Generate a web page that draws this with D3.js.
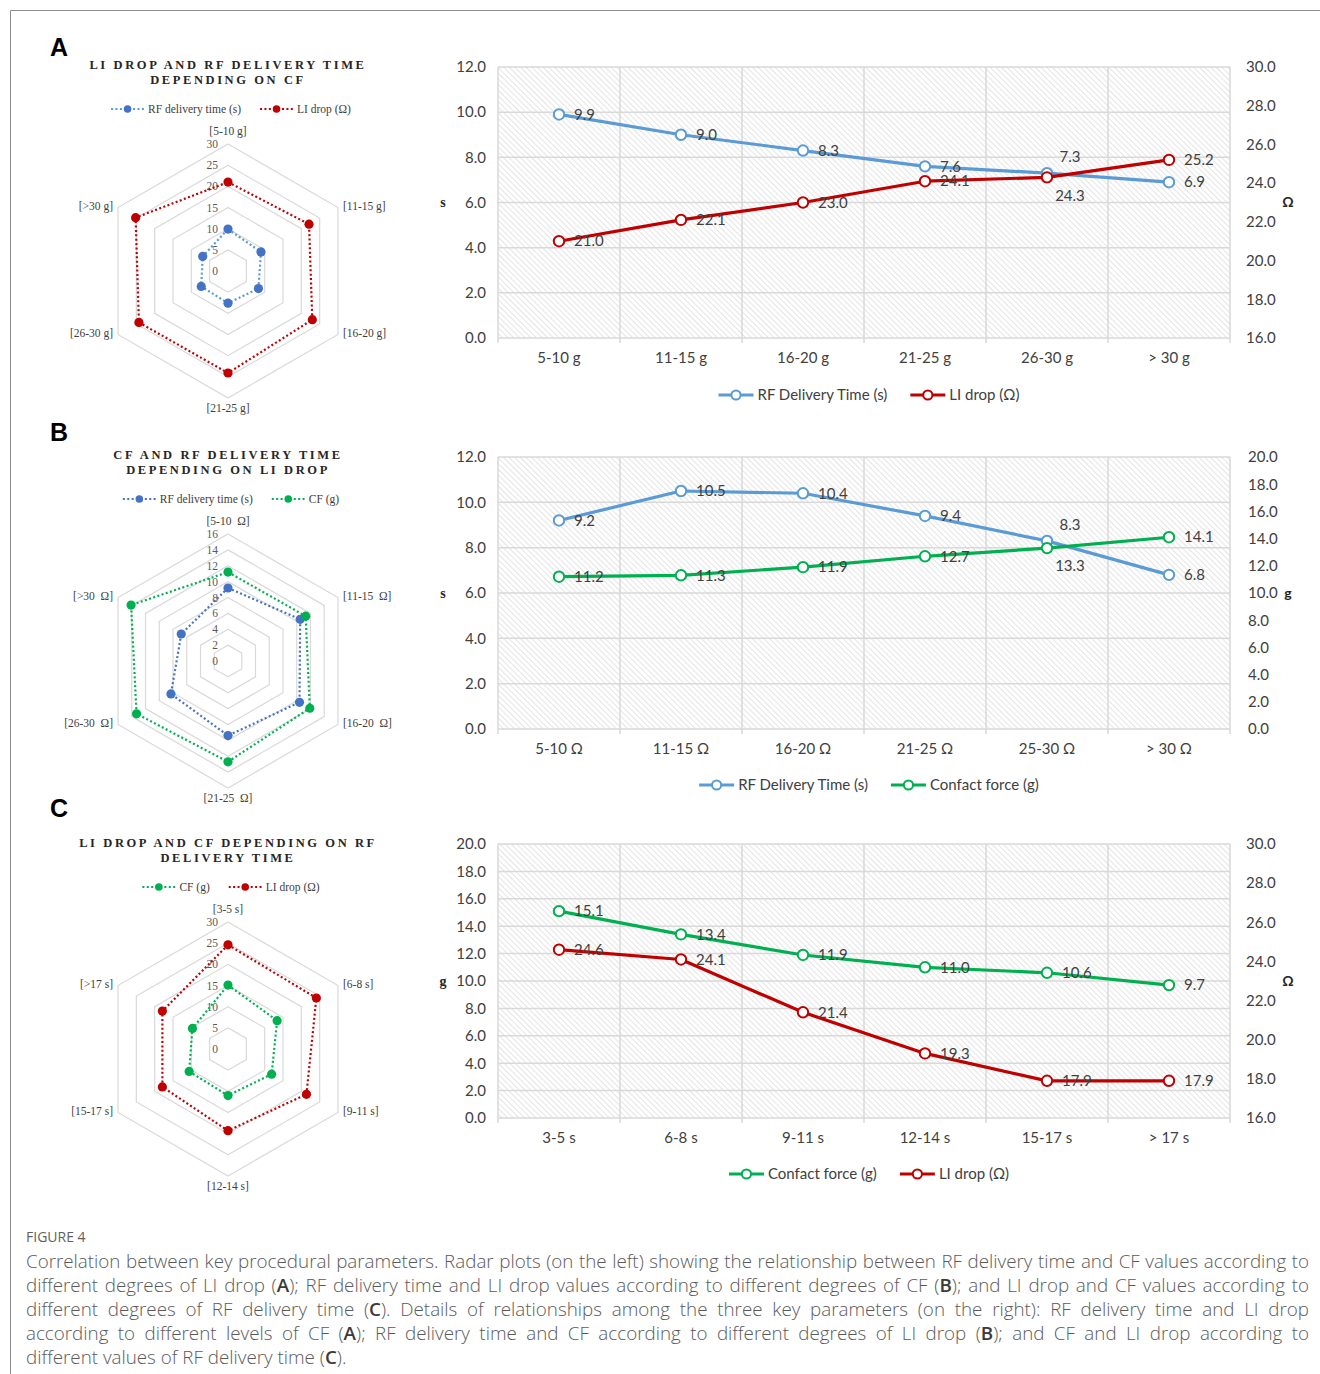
<!DOCTYPE html>
<html>
<head>
<meta charset="utf-8">
<script src="https://cdn.jsdelivr.net/npm/d3@7"></script>
<style>
  body { margin: 0; background: #fff; }
  svg { display: block; }
</style>
</head>
<body>
<svg id="fig" width="1320" height="1374"></svg>
<script>
// ---- categories ----
const cfCats = ["5-10 g", "11-15 g", "16-20 g", "21-25 g", "26-30 g", "> 30 g"];
const cfRadarCats = ["[5-10 g]", "[11-15 g]", "[16-20 g]", "[21-25 g]", "[26-30 g]", "[>30 g]"];
const liCats = ["5-10 Ω", "11-15 Ω", "16-20 Ω", "21-25 Ω", "25-30 Ω", "> 30 Ω"];
const liRadarCats = ["[5-10  Ω]", "[11-15  Ω]", "[16-20  Ω]", "[21-25  Ω]", "[26-30  Ω]", "[>30  Ω]"];
const rfCats = ["3-5 s", "6-8 s", "9-11 s", "12-14 s", "15-17 s", "> 17 s"];
const rfRadarCats = ["[3-5 s]", "[6-8 s]", "[9-11 s]", "[12-14 s]", "[15-17 s]", "[>17 s]"];

// ---- series values ----
const rfByCf = [9.9, 9.0, 8.3, 7.6, 7.3, 6.9];
const liByCf = [21.0, 22.1, 23.0, 24.1, 24.3, 25.2];
const rfByLi = [9.2, 10.5, 10.4, 9.4, 8.3, 6.8];
const cfByLi = [11.2, 11.3, 11.9, 12.7, 13.3, 14.1];
const cfByRf = [15.1, 13.4, 11.9, 11.0, 10.6, 9.7];
const liByRf = [24.6, 24.1, 21.4, 19.3, 17.9, 17.9];

// ---- tick labels ----
const secTicks = [0, 2, 4, 6, 8, 10, 12];
const ohmTicks = [16, 18, 20, 22, 24, 26, 28, 30];
const gramTicks = [0, 2, 4, 6, 8, 10, 12, 14, 16, 18, 20];
const radarTicks30 = [0, 5, 10, 15, 20, 25, 30];
const radarTicks16 = [0, 2, 4, 6, 8, 10, 12, 14, 16];

const captionHead = "FIGURE 4";
const captionLines = [
  "Correlation between key procedural parameters. Radar plots (on the left) showing the relationship between RF delivery time and CF values according to",
  "different degrees of LI drop (<b>A</b>); RF delivery time and LI drop values according to different degrees of CF (<b>B</b>); and LI drop and CF values according to",
  "different degrees of RF delivery time (<b>C</b>). Details of relationships among the three key parameters (on the right): RF delivery time and LI drop",
  "according to different levels of CF (<b>A</b>); RF delivery time and CF according to different degrees of LI drop (<b>B</b>); and CF and LI drop according to",
  "different values of RF delivery time (<b>C</b>)."
];

const BLUE = "#5B9BD5", BLUE_DK = "#4472C4", RED = "#C00000", GREEN = "#00B050";
const SERIF = "'Liberation Serif', 'Times New Roman', serif";
const SANS = "Lato, 'Open Sans', sans-serif";

const svg = d3.select("#fig");

// hatched plot background
const defs = svg.append("defs");
const pat = defs.append("pattern")
  .attr("id", "hatch")
  .attr("patternUnits", "userSpaceOnUse")
  .attr("width", 4).attr("height", 4)
  .attr("patternTransform", "rotate(-45)");
pat.append("rect").attr("width", 4).attr("height", 4).attr("fill", "#fff");
pat.append("line").attr("x1", 0).attr("y1", 0).attr("x2", 0).attr("y2", 4)
  .attr("stroke", "#d2d2d2").attr("stroke-width", 1.2);

// page frame
svg.append("path").attr("d", "M10.5,1374V10.5H1320")
  .attr("fill", "none").attr("stroke", "#8c8c8c").attr("stroke-width", 1);

// ---- radar plots ----
function radar(cfg) {
  const g = svg.append("g");
  const R = 127;
  const { cx, cy } = cfg;
  const r = d3.scaleLinear().domain([0, d3.max(cfg.ticks)]).range([0, R]);
  const ang = i => i * Math.PI / 3;
  const pt = (i, v) => [cx + r(v) * Math.sin(ang(i)), cy - r(v) * Math.cos(ang(i))];
  const ring = d3.line();

  cfg.ticks.filter(t => t > 0).forEach(t => {
    g.append("path")
      .attr("d", ring(d3.range(6).map(i => pt(i, t))) + "Z")
      .attr("fill", "none").attr("stroke", "#d9d9d9").attr("stroke-width", 1.2);
  });

  g.selectAll("text.tick").data(cfg.ticks).join("text")
    .attr("class", "tick")
    .attr("x", cx - 10).attr("y", t => cy - r(t)).attr("dy", "0.35em")
    .attr("text-anchor", "end")
    .attr("font-family", SERIF).attr("font-size", 11.5).attr("fill", "#595959")
    .text(t => t);

  cfg.cats.forEach((c, i) => {
    const [vx, vy] = pt(i, d3.max(cfg.ticks));
    const t = g.append("text")
      .attr("font-family", SERIF).attr("font-size", 11.5).attr("fill", "#404040")
      .style("white-space", "pre")
      .text(c);
    if (i === 0) t.attr("x", vx).attr("y", vy - 13).attr("text-anchor", "middle").attr("dy", "0.35em");
    else if (i === 3) t.attr("x", vx).attr("y", vy + 10).attr("text-anchor", "middle").attr("dy", "0.35em");
    else if (i < 3) t.attr("x", vx + 5).attr("y", vy - 2).attr("dy", "0.35em");
    else t.attr("x", vx - 5).attr("y", vy - 2).attr("text-anchor", "end").attr("dy", "0.35em");
  });

  cfg.series.forEach(s => {
    const pts = s.values.map((v, i) => pt(i, v));
    g.append("path")
      .attr("d", d3.line()(pts) + "Z")
      .attr("fill", "none").attr("stroke", s.line)
      .attr("stroke-width", 2.2).attr("stroke-dasharray", "2,2.4");
    g.selectAll(null).data(pts).join("circle")
      .attr("cx", d => d[0]).attr("cy", d => d[1]).attr("r", 4.6)
      .attr("fill", s.dot);
  });

  // title
  cfg.title.forEach((line, k) => {
    g.append("text")
      .attr("x", cx).attr("y", cy - 206 + k * 15).attr("dy", "0.35em")
      .attr("text-anchor", "middle")
      .attr("font-family", SERIF).attr("font-weight", "bold").attr("font-size", 12.5)
      .attr("letter-spacing", 2.6).attr("fill", "#262626")
      .text(line);
  });

  // legend
  const lg = g.append("g");
  let xx = 0;
  cfg.series.forEach(s => {
    const it = lg.append("g").attr("transform", `translate(${xx},0)`);
    it.append("line").attr("x1", 0).attr("x2", 33).attr("y1", 0).attr("y2", 0)
      .attr("stroke", s.line).attr("stroke-width", 2.2).attr("stroke-dasharray", "2,2.4");
    it.append("circle").attr("cx", 16.5).attr("cy", 0).attr("r", 3.8).attr("fill", s.dot);
    const tx = it.append("text").attr("x", 37).attr("dy", "0.35em")
      .attr("font-family", SERIF).attr("font-size", 11.5).attr("fill", "#404040")
      .text(s.name);
    xx += 37 + tx.node().getComputedTextLength() + 19;
  });
  xx -= 19;
  lg.attr("transform", `translate(${cx + 3 - xx / 2},${cy - 162})`);

  svg.append("text").attr("x", 50).attr("y", cfg.letterY).attr("dy", "0.35em")
    .attr("font-family", "'Liberation Sans', Arial, sans-serif").attr("font-weight", "bold")
    .attr("font-size", 25).attr("fill", "#000").text(cfg.letter);
}

radar({
  letter: "A", letterY: 47, cx: 228, cy: 271, ticks: radarTicks30, cats: cfRadarCats,
  title: ["LI DROP AND RF DELIVERY TIME", "DEPENDING ON CF"],
  series: [
    { name: "RF delivery time (s)", values: rfByCf, line: BLUE, dot: BLUE_DK },
    { name: "LI drop (Ω)", values: liByCf, line: RED, dot: RED }
  ]
});
radar({
  letter: "B", letterY: 432, cx: 228, cy: 661, ticks: radarTicks16, cats: liRadarCats,
  title: ["CF AND RF DELIVERY TIME", "DEPENDING ON LI DROP"],
  series: [
    { name: "RF delivery time (s)", values: rfByLi, line: BLUE_DK, dot: BLUE_DK },
    { name: "CF (g)", values: cfByLi, line: GREEN, dot: GREEN }
  ]
});
radar({
  letter: "C", letterY: 808, cx: 228, cy: 1049, ticks: radarTicks30, cats: rfRadarCats,
  title: ["LI DROP AND CF DEPENDING ON RF", "DELIVERY TIME"],
  series: [
    { name: "CF (g)", values: cfByRf, line: GREEN, dot: GREEN },
    { name: "LI drop (Ω)", values: liByRf, line: RED, dot: RED }
  ]
});

// ---- line charts ----
const X0 = 498, X1 = 1230;
const labelOffset = {
  right: { dx: 15, dy: 0, anchor: "start" },
  above: { dx: 23, dy: -16, anchor: "middle" },
  below: { dx: 23, dy: 18, anchor: "middle" }
};

function lineChart(cfg) {
  const g = svg.append("g");
  const x = d3.scaleBand().domain(cfg.cats).range([X0, X1]);
  const yL = d3.scaleLinear().domain(d3.extent(cfg.leftTicks)).range([cfg.y1, cfg.y0]);
  const yR = d3.scaleLinear().domain(d3.extent(cfg.rightTicks)).range([cfg.y1, cfg.y0]);
  const scales = { left: yL, right: yR };

  g.append("rect").attr("x", X0).attr("y", cfg.y0)
    .attr("width", X1 - X0).attr("height", cfg.y1 - cfg.y0)
    .attr("fill", "url(#hatch)");

  g.selectAll("line.hg").data(cfg.leftTicks).join("line")
    .attr("class", "hg")
    .attr("x1", X0).attr("x2", X1)
    .attr("y1", d => yL(d)).attr("y2", d => yL(d))
    .attr("stroke", "#d9d9d9").attr("stroke-width", 1.5);

  const bounds = cfg.cats.map(c => x(c)).concat([X1]);
  g.selectAll("line.vg").data(bounds).join("line")
    .attr("class", "vg")
    .attr("x1", d => d).attr("x2", d => d)
    .attr("y1", cfg.y0).attr("y2", cfg.y1 + 5)
    .attr("stroke", "#d9d9d9").attr("stroke-width", 1.5);

  const tickStyle = sel => {
    sel.select(".domain").remove();
    sel.selectAll("text").attr("font-family", SANS).attr("font-size", 15).attr("fill", "#404040");
  };

  g.append("g").attr("transform", `translate(${X0},0)`)
    .call(d3.axisLeft(yL).tickValues(cfg.leftTicks).tickFormat(d3.format(".1f")).tickSize(0).tickPadding(12))
    .call(tickStyle);
  g.append("g").attr("transform", `translate(${X1},0)`)
    .call(d3.axisRight(yR).tickValues(cfg.rightTicks).tickFormat(d3.format(".1f")).tickSize(0).tickPadding(cfg.rightPad))
    .call(tickStyle);
  g.append("g").attr("transform", `translate(0,${cfg.y1})`)
    .call(d3.axisBottom(x).tickSize(0).tickPadding(14))
    .call(tickStyle);

  const ym = (cfg.y0 + cfg.y1) / 2;
  g.append("text").attr("x", 443).attr("y", ym).attr("dy", "0.35em").attr("text-anchor", "middle")
    .attr("font-family", SERIF).attr("font-weight", "bold").attr("font-size", 14).attr("fill", "#262626")
    .text(cfg.leftTitle);
  g.append("text").attr("x", 1288).attr("y", ym).attr("dy", "0.35em").attr("text-anchor", "middle")
    .attr("font-family", SANS).attr("font-weight", "bold").attr("font-size", 14).attr("fill", "#262626")
    .text(cfg.rightTitle);

  cfg.series.forEach(s => {
    const y = scales[s.axis];
    const pts = s.values.map((v, i) => [x(cfg.cats[i]) + x.bandwidth() / 2, y(v)]);
    g.append("path").attr("d", d3.line()(pts))
      .attr("fill", "none").attr("stroke", s.color).attr("stroke-width", 3.2)
      .attr("stroke-linejoin", "round");
    g.selectAll(null).data(pts).join("circle")
      .attr("cx", d => d[0]).attr("cy", d => d[1]).attr("r", 5.2)
      .attr("fill", "#fff").attr("stroke", s.color).attr("stroke-width", 2);
    g.selectAll(null).data(pts).join("text")
      .attr("x", (d, i) => d[0] + labelOffset[s.labels[i]].dx)
      .attr("y", (d, i) => d[1] + labelOffset[s.labels[i]].dy)
      .attr("dy", "0.35em")
      .attr("text-anchor", (d, i) => labelOffset[s.labels[i]].anchor)
      .attr("font-family", SANS).attr("font-size", 15).attr("fill", "#404040")
      .text((d, i) => d3.format(".1f")(s.values[i]));
  });

  // legend
  const lg = g.append("g");
  let xx = 0;
  cfg.series.forEach(s => {
    const it = lg.append("g").attr("transform", `translate(${xx},0)`);
    it.append("line").attr("x1", 0).attr("x2", 35).attr("stroke", s.color).attr("stroke-width", 3.2);
    it.append("circle").attr("cx", 17.5).attr("r", 4.6)
      .attr("fill", "#fff").attr("stroke", s.color).attr("stroke-width", 2);
    const tx = it.append("text").attr("x", 39).attr("dy", "0.35em")
      .attr("font-family", SANS).attr("font-size", 15).attr("fill", "#404040")
      .text(s.name);
    xx += 39 + tx.node().getComputedTextLength() + 23;
  });
  xx -= 23;
  lg.attr("transform", `translate(${869 - xx / 2},${cfg.legendY})`);
}

lineChart({
  y0: 67, y1: 338, legendY: 395, cats: cfCats,
  leftTicks: secTicks, rightTicks: ohmTicks, rightPad: 16,
  leftTitle: "s", rightTitle: "Ω",
  series: [
    { name: "RF Delivery Time (s)", values: rfByCf, axis: "left", color: BLUE,
      labels: ["right", "right", "right", "right", "above", "right"] },
    { name: "LI drop (Ω)", values: liByCf, axis: "right", color: RED,
      labels: ["right", "right", "right", "right", "below", "right"] }
  ]
});
lineChart({
  y0: 457, y1: 729, legendY: 785, cats: liCats,
  leftTicks: secTicks, rightTicks: gramTicks, rightPad: 18,
  leftTitle: "s", rightTitle: "g",
  series: [
    { name: "RF Delivery Time (s)", values: rfByLi, axis: "left", color: BLUE,
      labels: ["right", "right", "right", "right", "above", "right"] },
    { name: "Confact force (g)", values: cfByLi, axis: "right", color: GREEN,
      labels: ["right", "right", "right", "right", "below", "right"] }
  ]
});
lineChart({
  y0: 844, y1: 1118, legendY: 1174, cats: rfCats,
  leftTicks: gramTicks, rightTicks: ohmTicks, rightPad: 16,
  leftTitle: "g", rightTitle: "Ω",
  series: [
    { name: "Confact force (g)", values: cfByRf, axis: "left", color: GREEN,
      labels: ["right", "right", "right", "right", "right", "right"] },
    { name: "LI drop (Ω)", values: liByRf, axis: "right", color: RED,
      labels: ["right", "right", "right", "right", "right", "right"] }
  ]
});

// ---- caption ----
const CAP_FONT = "'Open Sans', Lato, sans-serif";
const CX0 = 26, CX1 = 1309;
svg.append("text").attr("x", CX0).attr("y", 1237).attr("dy", "0.35em")
  .attr("font-family", CAP_FONT).attr("font-size", 14).attr("fill", "#5f5f5f")
  .text(captionHead);

captionLines.forEach((line, k) => {
  const t = svg.append("text").attr("x", CX0).attr("y", 1261 + k * 24).attr("dy", "0.35em")
    .attr("font-family", CAP_FONT).attr("font-weight", 300).attr("font-size", 18.8)
    .attr("fill", "#5a5a5a");
  line.split(/(<b>.*?<\/b>)/).forEach(part => {
    if (!part) return;
    const bold = part.startsWith("<b>");
    t.append("tspan").attr("font-weight", bold ? 600 : null).attr("fill", bold ? "#3a3a3a" : null)
      .text(part.replace(/<\/?b>/g, ""));
  });
  if (k < captionLines.length - 1) {
    const w = t.node().getComputedTextLength();
    const spaces = (line.replace(/<\/?b>/g, "").match(/ /g) || []).length;
    t.attr("word-spacing", (CX1 - CX0 - w) / spaces);
  }
});
</script>
</body>
</html>
